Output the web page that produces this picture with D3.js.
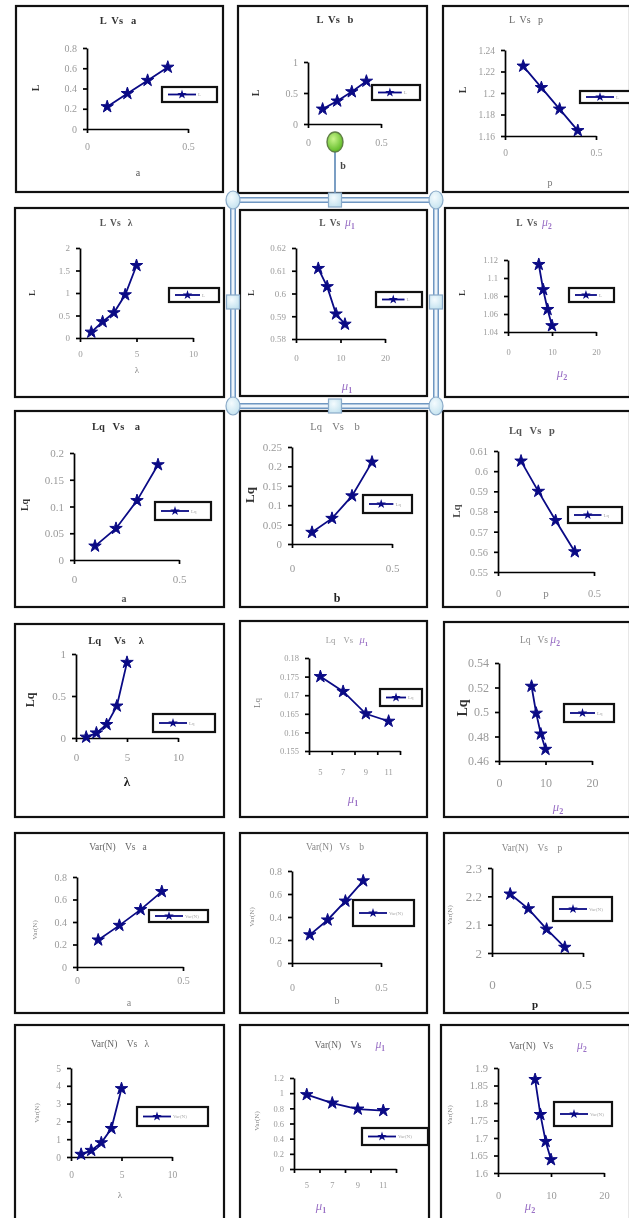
<!DOCTYPE html>
<html><head><meta charset="utf-8">
<script src="https://cdn.jsdelivr.net/npm/d3@7"></script>
<style>
html,body{margin:0;padding:0;background:#fff;}
svg{display:block;filter:blur(0.45px);}
text{font-family:"Liberation Serif","Times New Roman",serif;white-space:pre;}
</style></head><body>
<svg id="c" width="629" height="1218"></svg>
<script>
// ---------- DATA ----------
const aVals = [0.1, 0.2, 0.3, 0.4];
const bVals = [0.1, 0.2, 0.3, 0.4];
const pVals = [0.1, 0.2, 0.3, 0.4];
const pValsLq = [0.12, 0.21, 0.3, 0.4];
const lambdaVals = [1, 2, 3, 4, 5];
const mu1Vals = [5, 7, 9, 11];
const mu1Cats = ["5", "7", "9", "11"];
const mu2Vals = [7, 8, 9, 10];

const L_a = [0.22, 0.35, 0.48, 0.61];
const L_b = [0.24, 0.37, 0.52, 0.69];
const L_p = [1.225, 1.205, 1.185, 1.165];
const L_lambda = [0.13, 0.36, 0.56, 0.96, 1.61];
const L_mu1 = [0.611, 0.603, 0.591, 0.5865];
const L_mu2 = [1.115, 1.087, 1.065, 1.047];
const Lq_a = [0.026, 0.059, 0.111, 0.178];
const Lq_b = [0.030, 0.066, 0.124, 0.211];
const Lq_p = [0.605, 0.590, 0.5755, 0.560];
const Lq_lambda = [0.01, 0.06, 0.16, 0.38, 0.9];
const Lq_mu1 = [0.175, 0.171, 0.165, 0.163];
const Lq_mu2 = [0.521, 0.499, 0.482, 0.4695];
const Var_a = [0.24, 0.37, 0.51, 0.67];
const Var_b = [0.245, 0.374, 0.538, 0.714];
const Var_p = [2.208, 2.156, 2.084, 2.02];
const Var_lambda = [0.15, 0.37, 0.8, 1.6, 3.84];
const Var_mu1 = [0.98, 0.87, 0.79, 0.77];
const Var_mu2 = [1.867, 1.767, 1.69, 1.638];

// tick labels
const yT_L_a = [0, 0.2, 0.4, 0.6, 0.8];
const yT_L_b = [0, 0.5, 1];
const yT_L_p = [1.16, 1.18, 1.2, 1.22, 1.24];
const yT_L_lambda = [0, 0.5, 1, 1.5, 2];
const yT_L_mu1 = [0.58, 0.59, 0.6, 0.61, 0.62];
const yT_L_mu2 = [1.04, 1.06, 1.08, 1.1, 1.12];
const yT_Lq_a = [0, 0.05, 0.1, 0.15, 0.2];
const yT_Lq_b = [0, 0.05, 0.1, 0.15, 0.2, 0.25];
const yT_Lq_p = [0.55, 0.56, 0.57, 0.58, 0.59, 0.6, 0.61];
const yT_Lq_lambda = [0, 0.5, 1];
const yT_Lq_mu1 = [0.155, 0.16, 0.165, 0.17, 0.175, 0.18];
const yT_Lq_mu2 = [0.46, 0.48, 0.5, 0.52, 0.54];
const yT_Var_a = [0, 0.2, 0.4, 0.6, 0.8];
const yT_Var_b = [0, 0.2, 0.4, 0.6, 0.8];
const yT_Var_p = [2, 2.1, 2.2, 2.3];
const yT_Var_lambda = [0, 1, 2, 3, 4, 5];
const yT_Var_mu1 = [0, 0.2, 0.4, 0.6, 0.8, 1, 1.2];
const yT_Var_mu2 = [1.6, 1.65, 1.7, 1.75, 1.8, 1.85, 1.9];
const xT_half = [0, 0.5];
const xT_ten = [0, 5, 10];
const xT_twenty = [0, 10, 20];

// ---------- LAYOUT ----------
const DARK = "#333", LIGHT = "#9a9a9a";
const panels = [
 // row 1
 {title:[{t:"L  Vs   a"}], tS:10.5, tB:true, tC:DARK, yl:"L", ylS:10, ylB:true, ylC:DARK, xl:[{t:"a"}], xlS:10, xlC:"#555", lg:"L",
  xs:aVals, ys:L_a, yT:yT_L_a, xT:xT_half, box:[16,6,223,192], ax:[87,188,48,129], tt:[118,20], ylp:[35,88], xlp:[138,172], xtY:146, lgb:[162,87,217,102], fs:10},
 {title:[{t:"L  Vs   b"}], tS:10.5, tB:true, tC:DARK, yl:"L", ylS:10, ylB:true, ylC:DARK, xl:[{t:"b"}], xlS:10, xlB:true, xlC:"#444", lg:"L",
  xs:bVals, ys:L_b, yT:yT_L_b, xT:xT_half, box:[238,6,427,193], ax:[308,381,62,124], tt:[335,19], ylp:[255,93], xlp:[343,165], xtY:142, lgb:[372,85,420,100], fs:10},
 {title:[{t:"L  Vs   p"}], tS:10, tB:false, tC:"#666", yl:"L", ylS:10, ylB:true, ylC:DARK, xl:[{t:"p"}], xlS:10, xlC:"#777", lg:"L",
  xs:pVals, ys:L_p, yT:yT_L_p, xT:xT_half, box:[443,6,630,192], ax:[505,596,50,136], tt:[526,19], ylp:[462,90], xlp:[550,182], xtY:153, lgb:[580,91,640,103], fs:9.5},
 // row 2
 {title:[{t:"L  Vs   λ"}], tS:9.5, tB:true, tC:"#555", yl:"L", ylS:9, ylB:true, ylC:DARK, xl:[{t:"λ"}], xlS:9, xlC:"#888", lg:"L",
  xs:lambdaVals, ys:L_lambda, yT:yT_L_lambda, xT:xT_ten, box:[15,208,224,397], ax:[80,193,248,338], tt:[116,223], ylp:[32,293], xlp:[137,370], xtY:354, lgb:[169,288,219,302], fs:9},
 {title:[{t:"L  Vs  "},{mu:"1"}], tS:9.5, tB:true, tC:"#555", yl:"L", ylS:9, ylB:true, ylC:DARK, xl:[{mu:"1"}], xlS:12, lg:"L",
  xs:mu1Vals, ys:L_mu1, yT:yT_L_mu1, xT:xT_twenty, box:[240,210,427,396], ax:[296,385,248,339], tt:[337,223], ylp:[251,293], xlp:[347,386], xtY:358, lgb:[376,292,422,307], fs:9},
 {title:[{t:"L  Vs  "},{mu:"2"}], tS:9.5, tB:true, tC:"#555", yl:"L", ylS:9, ylB:true, ylC:DARK, xl:[{mu:"2"}], xlS:12, lg:"L",
  xs:mu2Vals, ys:L_mu2, yT:yT_L_mu2, xT:xT_twenty, box:[445,208,630,397], ax:[508,596,260,332], tt:[534,223], ylp:[462,293], xlp:[562,373], xtY:352, lgb:[569,288,614,302], fs:8.5},
 // row 3
 {title:[{t:"Lq   Vs    a"}], tS:10.5, tB:true, tC:DARK, yl:"Lq", ylS:10, ylB:true, ylC:DARK, xl:[{t:"a"}], xlS:10, xlB:true, xlC:"#555", lg:"Lq",
  xs:aVals, ys:Lq_a, yT:yT_Lq_a, xT:xT_half, box:[15,411,224,607], ax:[74,179,453,560], tt:[116,426], ylp:[24,505], xlp:[124,598], xtY:579, lgb:[155,502,211,520], fs:11},
 {title:[{t:"Lq    Vs    b"}], tS:10.5, tB:false, tC:"#777", yl:"Lq", ylS:13, ylB:true, ylC:DARK, xl:[{t:"b"}], xlS:12, xlB:true, xlC:"#222", lg:"Lq",
  xs:bVals, ys:Lq_b, yT:yT_Lq_b, xT:xT_half, box:[240,411,427,607], ax:[292,392,447,544], tt:[335,426], ylp:[249,495], xlp:[337,598], xtY:568, lgb:[363,495,412,513], fs:11},
 {title:[{t:"Lq   Vs   p"}], tS:10.5, tB:true, tC:"#555", yl:"Lq", ylS:11, ylB:true, ylC:"#555", xl:[{t:"p"}], xlS:11, xlC:"#888", lg:"Lq",
  xs:pValsLq, ys:Lq_p, yT:yT_Lq_p, xT:xT_half, box:[443,411,630,607], ax:[498,594,451,572], tt:[532,430], ylp:[456,511], xlp:[546,593], xtY:593, lgb:[568,507,622,523], fs:10.5},
 // row 4
 {title:[{t:"Lq     Vs     λ"}], tS:10.5, tB:true, tC:DARK, yl:"Lq", ylS:12, ylB:true, ylC:DARK, xl:[{t:"λ"}], xlS:13, xlB:true, xlC:"#222", lg:"Lq",
  xs:lambdaVals, ys:Lq_lambda, yT:yT_Lq_lambda, xT:xT_ten, box:[15,624,224,817], ax:[76,178,654,738], tt:[116,640], ylp:[30,700], xlp:[127,781], xtY:757, lgb:[153,714,215,732], fs:11},
 {title:[{t:"Lq    Vs   "},{mu:"1"}], tS:8.5, tB:false, tC:"#999", yl:"Lq", ylS:9, ylB:false, ylC:"#777", xl:[{mu:"1"}], xlS:12, lg:"Lq",
  cats:mu1Cats, xs:mu1Cats, ys:Lq_mu1, yT:yT_Lq_mu1, box:[240,621,427,817], ax:[309,400,658,751], tt:[347,640], ylp:[257,703], xlp:[353,799], xtY:772, lgb:[380,689,422,706], fs:8.5},
 {title:[{t:"Lq   Vs "},{mu:"2"}], tS:9.5, tB:false, tC:"#888", yl:"Lq", ylS:14, ylB:true, ylC:DARK, xl:[{mu:"2"}], xlS:12, lg:"Lq",
  xs:mu2Vals, ys:Lq_mu2, yT:yT_Lq_mu2, xT:xT_twenty, box:[444,622,630,817], ax:[499,592,663,761], tt:[540,640], ylp:[462,708], xlp:[558,807], xtY:783, lgb:[564,704,614,722], fs:12},
 // row 5
 {title:[{t:"Var(N)    Vs   a"}], tS:9.5, tB:false, tC:"#666", yl:"Var(N)", ylS:7, ylB:false, ylC:"#888", xl:[{t:"a"}], xlS:10, xlC:"#888", lg:"Var(N)",
  xs:aVals, ys:Var_a, yT:yT_Var_a, xT:xT_half, box:[15,833,224,1013], ax:[77,183,877,967], tt:[118,847], ylp:[35,930], xlp:[129,1002], xtY:980, lgb:[149,910,208,922], fs:10},
 {title:[{t:"Var(N)   Vs    b"}], tS:9.5, tB:false, tC:"#888", yl:"Var(N)", ylS:7, ylB:false, ylC:"#888", xl:[{t:"b"}], xlS:10, xlC:"#888", lg:"Var(N)",
  xs:bVals, ys:Var_b, yT:yT_Var_b, xT:xT_half, box:[240,833,427,1013], ax:[292,381,871,963], tt:[335,847], ylp:[252,917], xlp:[337,1000], xtY:987, lgb:[353,900,414,926], fs:10},
 {title:[{t:"Var(N)    Vs    p"}], tS:9.5, tB:false, tC:"#888", yl:"Var(N)", ylS:7, ylB:false, ylC:"#888", xl:[{t:"p"}], xlS:11, xlB:true, xlC:"#222", lg:"Var(N)",
  xs:pVals, ys:Var_p, yT:yT_Var_p, xT:xT_half, box:[444,833,630,1013], ax:[492,583,868,953], tt:[532,848], ylp:[450,915], xlp:[535,1004], xtY:984, lgb:[553,897,612,921], fs:13},
 // row 6
 {title:[{t:"Var(N)    Vs   λ"}], tS:9.5, tB:false, tC:"#666", yl:"Var(N)", ylS:7, ylB:false, ylC:"#888", xl:[{t:"λ"}], xlS:9, xlC:"#888", lg:"Var(N)",
  xs:lambdaVals, ys:Var_lambda, yT:yT_Var_lambda, xT:xT_ten, box:[15,1025,224,1232], ax:[71,172,1068,1157], tt:[120,1044], ylp:[37,1113], xlp:[120,1195], xtY:1175, lgb:[137,1107,208,1126], fs:9.5},
 {title:[{t:"Var(N)    Vs      "},{mu:"1"}], tS:9.5, tB:false, tC:"#666", yl:"Var(N)", ylS:7, ylB:false, ylC:"#888", xl:[{mu:"1"}], xlS:12, lg:"Var(N)",
  cats:mu1Cats, xs:mu1Cats, ys:Var_mu1, yT:yT_Var_mu1, box:[240,1025,429,1232], ax:[294,396,1078,1169], tt:[350,1045], ylp:[257,1121], xlp:[321,1206], xtY:1185, lgb:[362,1128,428,1145], fs:8.5},
 {title:[{t:"Var(N)   Vs          "},{mu:"2"}], tS:9.5, tB:false, tC:"#666", yl:"Var(N)", ylS:7, ylB:false, ylC:"#888", xl:[{mu:"2"}], xlS:12, lg:"Var(N)",
  xs:mu2Vals, ys:Var_mu2, yT:yT_Var_mu2, xT:xT_twenty, box:[441,1025,630,1232], ax:[498,604,1068,1173], tt:[548,1046], ylp:[450,1115], xlp:[530,1206], xtY:1195, lgb:[554,1102,612,1126], fs:10.5}
];

const NAVY = "#0a0a85";
const MU = "#9b72c6";
const svg = d3.select("#c");
const fmt = d => String(+(+d).toFixed(3));
const marker = d3.symbol().type(d3.symbolStar).size(48);

function addParts(text, parts, size) {
  parts.forEach(pt => {
    if (pt.t !== undefined) {
      text.append("tspan").text(pt.t);
    } else {
      text.append("tspan").text("μ").attr("fill", MU).attr("font-style", "italic")
        .attr("font-weight", "normal").attr("font-size", size * 1.25);
      text.append("tspan").text(pt.mu).attr("fill", MU).attr("font-weight", "bold")
        .attr("font-size", size * 0.8).attr("dy", size * 0.3);
    }
  });
}

function styleAxis(a) {
  a.select(".domain").attr("stroke", "#000").attr("stroke-width", 1.7);
  a.selectAll(".tick line").attr("stroke", "#000").attr("stroke-width", 1.7);
  a.selectAll("text").attr("fill", LIGHT).attr("font-family", '"Liberation Serif", serif');
}

function drawPanel(p) {
  const g = svg.append("g");
  const [bx0, by0, bx1, by1] = p.box;
  g.append("rect").attr("x", bx0).attr("y", by0).attr("width", bx1 - bx0).attr("height", by1 - by0)
    .attr("fill", "none").attr("stroke", "#111").attr("stroke-width", 2.2);
  const [xL, xR, yTop, yBot] = p.ax;
  const y = d3.scaleLinear().domain([p.yT[0], p.yT[p.yT.length - 1]]).range([yBot, yTop]);
  let px;
  if (p.cats) {
    const band = d3.scaleBand().domain(p.cats).range([xL, xR]);
    px = d => band(d) + band.bandwidth() / 2;
    const idx = d3.scaleLinear().domain([0, p.cats.length]).range([xL, xR]);
    const xa = g.append("g").attr("transform", `translate(0,${yBot})`)
      .call(d3.axisBottom(idx).tickValues(d3.range(p.cats.length + 1)).tickSize(4).tickSizeOuter(0).tickFormat(""));
    styleAxis(xa);
    g.selectAll(null).data(p.cats).enter().append("text")
      .attr("x", d => px(d)).attr("y", p.xtY).attr("dy", "0.35em").attr("text-anchor", "middle")
      .attr("font-size", p.fs).attr("fill", LIGHT).text(d => d);
  } else {
    const x = d3.scaleLinear().domain([p.xT[0], p.xT[p.xT.length - 1]]).range([xL, xR]);
    px = x;
    const xa = g.append("g").attr("transform", `translate(0,${yBot})`)
      .call(d3.axisBottom(x).tickValues(p.xT).tickSize(4).tickSizeOuter(0).tickFormat(fmt));
    styleAxis(xa);
    xa.selectAll("text").attr("y", p.xtY - yBot).attr("dy", "0.35em").attr("font-size", p.fs);
  }
  const ya = g.append("g").attr("transform", `translate(${xL},0)`)
    .call(d3.axisLeft(y).tickValues(p.yT).tickSize(4).tickSizeOuter(0).tickPadding(6).tickFormat(fmt));
  styleAxis(ya);
  ya.selectAll("text").attr("font-size", p.fs);

  // series
  const pts = p.xs.map((v, i) => [px(v), y(p.ys[i])]);
  g.append("path").attr("d", d3.line()(pts)).attr("fill", "none").attr("stroke", NAVY).attr("stroke-width", 1.8);
  g.selectAll(null).data(pts).enter().append("path").attr("d", marker)
    .attr("transform", d => `translate(${d[0]},${d[1]})`).attr("fill", NAVY).attr("stroke", NAVY).attr("stroke-width", 1);

  // legend
  const [lx0, ly0, lx1, ly1] = p.lgb;
  g.append("rect").attr("x", lx0).attr("y", ly0).attr("width", lx1 - lx0).attr("height", ly1 - ly0)
    .attr("fill", "#fff").attr("stroke", "#111").attr("stroke-width", 2.2);
  const lm = (ly0 + ly1) / 2;
  const la = lx0 + 6, lb = lx0 + Math.min(34, (lx1 - lx0) * 0.62);
  g.append("line").attr("x1", la).attr("x2", lb).attr("y1", lm).attr("y2", lm).attr("stroke", NAVY).attr("stroke-width", 1.8);
  g.append("path").attr("d", d3.symbol().type(d3.symbolStar).size(28)).attr("transform", `translate(${(la + lb) / 2},${lm})`).attr("fill", NAVY);
  g.append("text").attr("x", lb + 2).attr("y", lm).attr("dy", "0.35em").attr("font-size", 5).attr("fill", "#aaa").text(p.lg);

  // title
  const tt = g.append("text").attr("x", p.tt[0]).attr("y", p.tt[1]).attr("dy", "0.35em").attr("text-anchor", "middle")
    .attr("font-size", p.tS).attr("font-weight", p.tB ? "bold" : "normal").attr("fill", p.tC);
  addParts(tt, p.title, p.tS);

  // y label
  g.append("text").attr("transform", `translate(${p.ylp[0]},${p.ylp[1]}) rotate(-90)`).attr("dy", "0.35em")
    .attr("text-anchor", "middle").attr("font-size", p.ylS).attr("font-weight", p.ylB ? "bold" : "normal")
    .attr("fill", p.ylC).text(p.yl);

  // x label
  const xl = g.append("text").attr("x", p.xlp[0]).attr("y", p.xlp[1]).attr("dy", "0.35em").attr("text-anchor", "middle")
    .attr("font-size", p.xlS).attr("font-weight", p.xlB ? "bold" : "normal").attr("fill", p.xlC || "#777");
  addParts(xl, p.xl, p.xlS * 0.85);
}

panels.forEach(drawPanel);

// ---------- selection frame (decoration) ----------
const f = svg.append("g");
const defs = svg.append("defs");
const gg = defs.append("radialGradient").attr("id", "gr").attr("cx", "40%").attr("cy", "35%").attr("r", "70%");
gg.append("stop").attr("offset", "0%").attr("stop-color", "#c8f58a");
gg.append("stop").attr("offset", "100%").attr("stop-color", "#56b51e");
const bg = defs.append("radialGradient").attr("id", "br").attr("cx", "40%").attr("cy", "35%").attr("r", "70%");
bg.append("stop").attr("offset", "0%").attr("stop-color", "#f4fbfe");
bg.append("stop").attr("offset", "100%").attr("stop-color", "#c3e2ef");
const fr = {x0: 233, y0: 200, x1: 436, y1: 406};
f.append("rect").attr("x", fr.x0).attr("y", fr.y0).attr("width", fr.x1 - fr.x0).attr("height", fr.y1 - fr.y0)
  .attr("fill", "none").attr("stroke", "#6f97c2").attr("stroke-width", 6);
f.append("rect").attr("x", fr.x0).attr("y", fr.y0).attr("width", fr.x1 - fr.x0).attr("height", fr.y1 - fr.y0)
  .attr("fill", "none").attr("stroke", "#eef5fb").attr("stroke-width", 3);
const cx = (fr.x0 + fr.x1) / 2 + 0.5, cy = (fr.y0 + fr.y1) / 2 - 1;
f.append("line").attr("x1", cx).attr("x2", cx).attr("y1", 151).attr("y2", fr.y0).attr("stroke", "#5a86b5").attr("stroke-width", 1.6);
f.append("ellipse").attr("cx", cx).attr("cy", 142).attr("rx", 8).attr("ry", 10)
  .attr("fill", "url(#gr)").attr("stroke", "#5f7f45").attr("stroke-width", 1.4);
[[fr.x0, fr.y0], [fr.x1, fr.y0], [fr.x0, fr.y1], [fr.x1, fr.y1]].forEach(([x, yy]) =>
  f.append("ellipse").attr("cx", x).attr("cy", yy).attr("rx", 7).attr("ry", 9)
    .attr("fill", "url(#br)").attr("stroke", "#8aaac8").attr("stroke-width", 1.2));
[[cx, fr.y0], [fr.x0, cy], [fr.x1, cy], [cx, fr.y1]].forEach(([x, yy]) =>
  f.append("rect").attr("x", x - 6.5).attr("y", yy - 7).attr("width", 13).attr("height", 14)
    .attr("fill", "url(#br)").attr("stroke", "#8aaac8").attr("stroke-width", 1.2));
</script>
</body></html>
